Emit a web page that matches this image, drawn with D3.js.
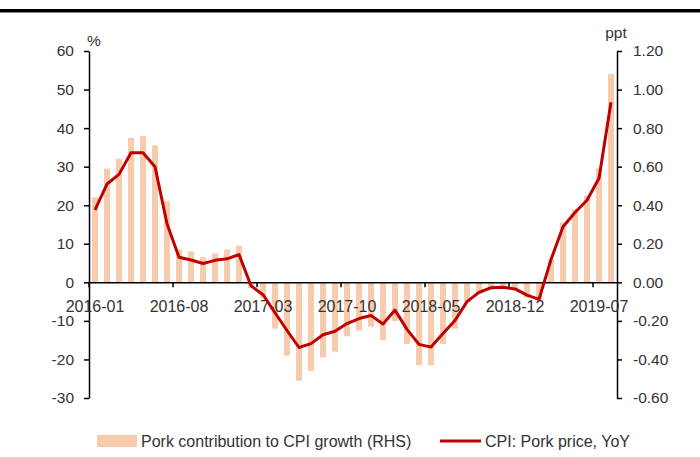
<!DOCTYPE html>
<html><head><meta charset="utf-8">
<script src="https://cdn.jsdelivr.net/npm/d3@7"></script>
<style>
body{margin:0;background:#fff;}
svg{display:block;font-family:"Liberation Sans",Arial,sans-serif;}
</style>
</head><body>
<svg id="c" width="700" height="457"></svg>
<script>
const months = ["2016-01","2016-02","2016-03","2016-04","2016-05","2016-06","2016-07","2016-08","2016-09","2016-10","2016-11","2016-12",
"2017-01","2017-02","2017-03","2017-04","2017-05","2017-06","2017-07","2017-08","2017-09","2017-10","2017-11","2017-12",
"2018-01","2018-02","2018-03","2018-04","2018-05","2018-06","2018-07","2018-08","2018-09","2018-10","2018-11","2018-12",
"2019-01","2019-02","2019-03","2019-04","2019-05","2019-06","2019-07","2019-08"];
// Pork contribution to CPI growth, ppt (right axis)
const porkContribution = [0.44,0.59,0.64,0.75,0.76,0.71,0.42,0.17,0.16,0.13,0.15,0.17,
0.19,-0.03,-0.08,-0.24,-0.38,-0.51,-0.46,-0.39,-0.36,-0.28,-0.25,-0.23,
-0.30,-0.20,-0.32,-0.43,-0.43,-0.32,-0.24,-0.10,-0.06,-0.03,-0.02,-0.04,
-0.08,-0.09,0.12,0.31,0.38,0.45,0.59,1.08];
// CPI: Pork price, YoY, % (left axis)
const porkPriceYoY = [18.8,25.5,28.0,33.6,33.6,30.0,15.2,6.5,5.8,4.9,5.7,6.1,
7.2,-0.9,-3.2,-7.9,-12.5,-16.9,-15.9,-13.6,-12.7,-10.7,-9.4,-8.6,
-10.8,-7.2,-12.2,-16.1,-16.8,-13.3,-9.9,-5.0,-2.6,-1.4,-1.3,-1.7,
-3.3,-4.4,5.9,14.4,18.1,21.3,27.0,46.7];
const leftTicks = [60,50,40,30,20,10,0,-10,-20,-30];
const rightTicks = [1.2,1.0,0.8,0.6,0.4,0.2,0,-0.2,-0.4,-0.6];
const xLabelMonths = ["2016-01","2016-08","2017-03","2017-10","2018-05","2018-12","2019-07"];
const seriesNames = ["Pork contribution to CPI growth (RHS)","CPI: Pork price, YoY"];

const barColor = "#F8CBAD", lineColor = "#C00000", textColor = "#333";
const svg = d3.select("#c");

// top rule
svg.append("rect").attr("x",0).attr("y",9).attr("width",700).attr("height",3.5).attr("fill","#000");

const x = d3.scaleBand().domain(months).range([89,617]).paddingInner(0.5).paddingOuter(0.25);
const step = x.step();
const yL = d3.scaleLinear().domain([-30,60]).range([398,51]);
const yR = d3.scaleLinear().domain([-0.6,1.2]).range([398,51]);

// bars
svg.append("g").selectAll("rect").data(months).join("rect")
  .attr("x", d => x(d))
  .attr("width", x.bandwidth())
  .attr("y", (d,i) => Math.min(yR(porkContribution[i]), yR(0)))
  .attr("height", (d,i) => Math.abs(yR(porkContribution[i]) - yR(0)))
  .attr("fill", barColor);

// left axis
const gL = svg.append("g").attr("transform","translate(89,0)")
  .call(d3.axisLeft(yL).tickValues(leftTicks).tickSize(5).tickSizeOuter(0).tickPadding(10).tickFormat(d3.format("d")));
gL.selectAll("text").text(d => String(d));
// right axis
const gR = svg.append("g").attr("transform","translate(617,0)")
  .call(d3.axisRight(yR).tickValues(rightTicks).tickSize(5).tickSizeOuter(0).tickPadding(11).tickFormat(d => d.toFixed(2)));
[gL,gR].forEach(g => {
  g.select(".domain").attr("stroke","#000").attr("stroke-width",1.5);
  g.selectAll(".tick line").attr("stroke","#000").attr("stroke-width",1.5);
  g.selectAll("text").attr("fill",textColor).style("font-size","15.5px");
});

// x axis at zero
const gX = svg.append("g").attr("transform",`translate(0,${yL(0)})`)
  .call(d3.axisBottom(x).tickValues(xLabelMonths).tickSize(0).tickSizeOuter(0).tickPadding(18.5));
gX.select(".domain").attr("stroke","#000").attr("stroke-width",1.5);
gX.selectAll("text").attr("fill",textColor).style("font-size","16px");
gX.selectAll(".tickmark").data(xLabelMonths).join("line").attr("class","tickmark")
  .attr("x1", d => x(d) - step*x.paddingInner()/2).attr("x2", d => x(d) - step*x.paddingInner()/2)
  .attr("y1",0).attr("y2",5).attr("stroke","#000").attr("stroke-width",1.5);

// line
const line = d3.line().x(d => x(d) + x.bandwidth()/2).y((d,i) => yL(porkPriceYoY[i]));
svg.append("path").datum(months).attr("d", line)
  .attr("fill","none").attr("stroke",lineColor).attr("stroke-width",3).attr("stroke-linejoin","round");

// unit labels
svg.append("text").attr("x",87).attr("y",46).attr("fill",textColor).style("font-size","15.5px").text("%");
svg.append("text").attr("x",616).attr("y",37.5).attr("text-anchor","middle").attr("fill",textColor).style("font-size","15.5px").text("ppt");

// legend
const lg = svg.append("g");
lg.append("rect").attr("x",97).attr("y",435).attr("width",40).attr("height",12).attr("fill",barColor);
lg.append("text").attr("x",141).attr("y",447).attr("fill",textColor).style("font-size","16px").text(seriesNames[0]);
lg.append("line").attr("x1",440).attr("x2",481).attr("y1",441).attr("y2",441).attr("stroke",lineColor).attr("stroke-width",3);
lg.append("text").attr("x",485).attr("y",447).attr("fill",textColor).style("font-size","16px").text(seriesNames[1]);
</script>
</body></html>
